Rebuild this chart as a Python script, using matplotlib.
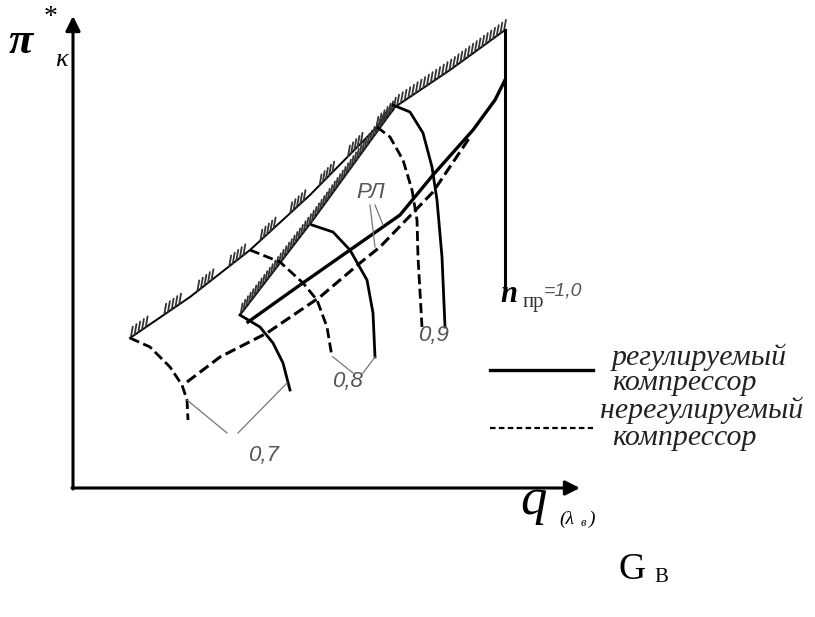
import numpy as np
import matplotlib
matplotlib.use("Agg")
import matplotlib.pyplot as plt

# schematic compressor map, units: q and pi measured from the axes corner
surge_unreg = [(0.57, 1.50), (1.17, 1.91), (1.77, 2.38), (2.37, 2.93), (3.04, 3.61), (3.20, 3.78)]
surge_reg = [(1.67, 1.73), (2.40, 2.68), (3.22, 3.81), (3.77, 4.18), (4.32, 4.58)]

speed_unreg = {
    "0,7": [(0.57, 1.50), (0.77, 1.41), (0.97, 1.21), (1.09, 1.03), (1.14, 0.88), (1.15, 0.68)],
    "0,8": [(1.77, 2.38), (2.07, 2.26), (2.30, 2.05), (2.44, 1.88), (2.54, 1.61), (2.59, 1.31)],
    "0,9": [(3.04, 3.61), (3.17, 3.51), (3.30, 3.28), (3.39, 2.98), (3.44, 2.68), (3.45, 2.31), (3.49, 1.61)],
}
speed_reg = {
    "0,7": [(1.67, 1.73), (1.87, 1.61), (2.00, 1.45), (2.10, 1.25), (2.17, 0.98)],
    "0,8": [(2.39, 2.63), (2.60, 2.56), (2.77, 2.38), (2.94, 2.08), (3.00, 1.75), (3.02, 1.31)],
    "0,9": [(3.20, 3.83), (3.37, 3.76), (3.50, 3.55), (3.59, 3.21), (3.64, 2.88), (3.69, 2.31), (3.72, 1.61)],
}
speed_100 = [(4.32, 4.58), (4.32, 1.98)]

oper_reg = [(1.75, 1.66), (2.27, 2.03), (2.77, 2.38), (3.27, 2.73), (3.60, 3.13), (4.00, 3.58), (4.22, 3.88), (4.32, 4.08)]
oper_unreg = [(1.14, 1.06), (1.47, 1.31), (1.94, 1.55), (2.47, 1.91), (2.87, 2.25), (3.07, 2.41), (3.60, 2.96), (3.97, 3.51)]

# speed labels: text, position, leader lines
speed_labels = [
    ("0,7", (1.75, 0.32), [[(1.14, 0.88), (1.54, 0.55)], [(1.65, 0.55), (2.14, 1.05)]]),
    ("0,8", (2.59, 1.07), [[(2.60, 1.31), (2.80, 1.15)], [(2.90, 1.15), (3.02, 1.31)]]),
    ("0,9", (3.45, 1.52), []),
]
rl_label = ("РЛ", (2.98, 2.96), [[(2.97, 2.83), (3.02, 2.41)], [(3.02, 2.83), (3.10, 2.63)]])

legend_text = ["регулируемый", "компрессор", "нерегулируемый", "компрессор"]

SERIF = "Liberation Serif"
SANS = "Liberation Sans"
GRAY = "#555555"
DASH = (3.6, 1.6)


def xy(pts):
    a = np.asarray(pts, float)
    return a[:, 0], a[:, 1]


def hatch(ax, pts, step, group=None, length=0.11, angle=80):
    a = np.asarray(pts, float)
    seg = np.hypot(*np.diff(a, axis=0).T)
    s = np.concatenate([[0], np.cumsum(seg)])
    d = np.array([np.cos(np.radians(angle)), np.sin(np.radians(angle))]) * length
    k = -1
    for t in np.arange(0.01, s[-1], step):
        k += 1
        if group is not None and (k % group[1]) >= group[0]:
            continue
        px = np.interp(t, s, a[:, 0])
        py = np.interp(t, s, a[:, 1])
        ax.plot([px, px + d[0]], [py, py + d[1]], color="#333333", lw=1.3, solid_capstyle="round")


fig = plt.figure(figsize=(8.15, 6.17), dpi=100)
ax = fig.add_axes([0, 0, 1, 1])
ax.set_xlim(-0.73, 7.42)
ax.set_ylim(-1.29, 4.88)
ax.axis("off")

# axes with arrows
arr = dict(arrowstyle="-|>", lw=2.2, color="k", mutation_scale=22, shrinkA=0, shrinkB=0)
ax.annotate("", xy=(0, 4.72), xytext=(0, -0.01), arrowprops=arr)
ax.annotate("", xy=(5.07, 0), xytext=(-0.01, 0), arrowprops=arr)

# surge lines
ax.plot(*xy(surge_unreg), color="k", lw=1.4)
hatch(ax, surge_unreg, 0.045, group=(5, 9))
ax.plot(*xy(surge_reg), color="k", lw=1.4)
hatch(ax, surge_reg, 0.045)

# speed lines
for key, pts in speed_unreg.items():
    ax.plot(*xy(pts), color="k", lw=2.0, dashes=DASH)
for key, pts in speed_reg.items():
    ax.plot(*xy(pts), color="k", lw=2.0)
ax.plot(*xy(speed_100), color="k", lw=2.2)

# operating lines
ax.plot(*xy(oper_reg), color="k", lw=2.4)
ax.plot(*xy(oper_unreg), color="k", lw=2.2, dashes=DASH)

for txt, pos, leaders in speed_labels + [rl_label]:
    ax.text(pos[0], pos[1], txt, family=SANS, style="italic", fontsize=16, color=GRAY,
            ha="left" if txt != "РЛ" else "center", va="center")
    for ln in leaders:
        ax.plot(*xy(ln), color="#777777", lw=0.9)

# n_пр = 1,0
ax.text(4.27, 1.93, "n", family=SERIF, style="italic", weight="bold", fontsize=22, va="center")
ax.text(4.50, 1.86, "пр", family=SERIF, fontsize=15, color="#333333", va="center")
ax.text(4.71, 1.97, "=1,0", family=SANS, style="italic", fontsize=14, color=GRAY, va="center")

# axis labels
ax.text(-0.64, 4.46, "π", family=SERIF, style="italic", weight="bold", fontsize=32, va="center")
ax.text(-0.29, 4.70, "*", family=SERIF, fontsize=20, va="center")
ax.text(-0.18, 4.28, "κ", family=SERIF, style="italic", fontsize=19, va="center")
ax.text(4.47, -0.13, "q", family=SERIF, style="italic", fontsize=38, va="center")
ax.text(4.86, -0.31, "(λ", family=SERIF, style="italic", fontsize=14, va="center")
ax.text(5.08, -0.35, "в", family=SERIF, style="italic", fontsize=9, va="center")
ax.text(5.16, -0.31, ")", family=SERIF, style="italic", fontsize=14, va="center")
ax.text(5.46, -0.82, "G", family=SERIF, fontsize=27, va="center")
ax.text(5.81, -0.89, "В", family=SERIF, fontsize=15, va="center")

# legend
ax.plot([4.17, 5.20], [1.18, 1.18], color="k", lw=2.4)
ax.plot([4.17, 5.20], [0.60, 0.60], color="k", lw=1.6, dashes=(2.5, 1.5))
legend_pos = [(5.39, 1.31), (5.39, 1.05), (5.27, 0.78), (5.39, 0.50)]
for txt, (x0, y0) in zip(legend_text, legend_pos):
    ax.text(x0, y0, txt, family=SERIF, style="italic", fontsize=21.5, va="center", color="#222222")

fig.savefig("out.png", dpi=100)
